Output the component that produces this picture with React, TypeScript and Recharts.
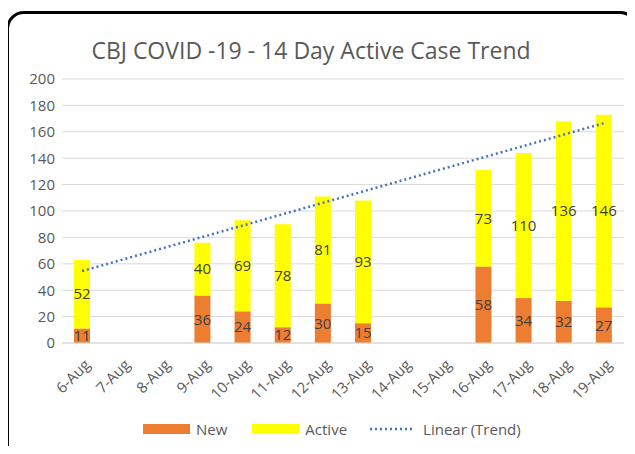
import React from "react";
import {
  ComposedChart, Bar, Line, XAxis, YAxis, CartesianGrid, Legend, LabelList,
} from "recharts";

const categories = [
  "6-Aug", "7-Aug", "8-Aug", "9-Aug", "10-Aug", "11-Aug", "12-Aug",
  "13-Aug", "14-Aug", "15-Aug", "16-Aug", "17-Aug", "18-Aug", "19-Aug",
];
const newCases = [11, null, null, 36, 24, 12, 30, 15, null, null, 58, 34, 32, 27];
const activeCases = [52, null, null, 40, 69, 78, 81, 93, null, null, 73, 110, 136, 146];
// Excel linear trendline, endpoints
const trendLine = [54.5, null, null, null, null, null, null, null, null, null, null, null, null, 166.5];
const yTicks = [0, 20, 40, 60, 80, 100, 120, 140, 160, 180, 200];

const data = categories.map((name, i) => ({
  name,
  New: newCases[i],
  Active: activeCases[i],
  Trend: trendLine[i],
}));

const FONT = "'Open Sans', 'Liberation Sans', sans-serif";
const GRAY = "#595959";

const XTick = ({ x, y, payload }: any) => (
  <g transform={`translate(${x + 6},${y + 12})`}>
    <text x={0} y={0} dy={4} textAnchor="end" transform="rotate(-45)" fill={GRAY} fontSize={15} fontFamily={FONT}>
      {payload.value}
    </text>
  </g>
);

const LegendBox = () => (
  <div style={{ display: "flex", alignItems: "center", fontFamily: FONT, fontSize: 15, color: GRAY }}>
    <span style={{ width: 47, height: 10, background: "#ED7D31", display: "inline-block", marginRight: 6 }} />
    <span style={{ marginRight: 25 }}>New</span>
    <span style={{ width: 47, height: 10, background: "#FFFF00", display: "inline-block", marginRight: 6 }} />
    <span style={{ marginRight: 22 }}>Active</span>
    <svg width={47} height={6} style={{ marginRight: 7 }}>
      <line x1={1} y1={3} x2={46} y2={3} stroke="#4472C4" strokeWidth={2.5} strokeDasharray="2 3" />
    </svg>
    <span>Linear (Trend)</span>
  </div>
);

export default function App() {
  return (
    <div style={{ position: "relative", width: 627, height: 438, overflow: "hidden" }}>
      <div
        style={{
          position: "absolute", left: -2, top: 3, width: 632, height: 470,
          border: "3px solid #000", borderRadius: 18, boxSizing: "border-box",
        }}
      />
      <div
        style={{
          position: "absolute", left: 0, top: 26, width: 606, textAlign: "center",
          fontFamily: FONT, fontSize: 23, color: GRAY,
        }}
      >
        CBJ COVID -19 - 14 Day Active Case Trend
      </div>
      <ComposedChart
        width={627}
        height={438}
        data={data}
        margin={{ top: 71, right: 11, bottom: 43, left: 0 }}
        barCategoryGap={0}
        style={{ position: "absolute", left: 0, top: 0 }}
      >
        <CartesianGrid vertical={false} stroke="#D9D9D9" strokeWidth={1} />
        <XAxis
          dataKey="name"
          interval={0}
          tick={<XTick />}
          tickLine={false}
          axisLine={{ stroke: "#D9D9D9" }}
          height={60}
        />
        <YAxis
          domain={[0, 200]}
          ticks={yTicks}
          width={54}
          tickSize={0}
          tickMargin={7}
          axisLine={false}
          tick={{ fill: GRAY, fontSize: 15, fontFamily: FONT }}
        />
        <Bar dataKey="New" stackId="a" fill="#ED7D31" barSize={16} isAnimationActive={false}>
          <LabelList dataKey="New" position="center" fill="#404040" fontSize={15} fontFamily={FONT} />
        </Bar>
        <Bar dataKey="Active" stackId="a" fill="#FFFF00" barSize={16} isAnimationActive={false}>
          <LabelList dataKey="Active" position="center" fill="#404040" fontSize={15} fontFamily={FONT} />
        </Bar>
        <Line
          dataKey="Trend"
          type="linear"
          stroke="#4472C4"
          strokeWidth={2.5}
          strokeDasharray="2 3"
          dot={false}
          connectNulls
          isAnimationActive={false}
        />
        <Legend
          layout="horizontal"
          verticalAlign="middle"
          align="center"
          content={<LegendBox />}
          wrapperStyle={{ position: "absolute", left: 135, top: 411, width: "auto" }}
        />
      </ComposedChart>
    </div>
  );
}
